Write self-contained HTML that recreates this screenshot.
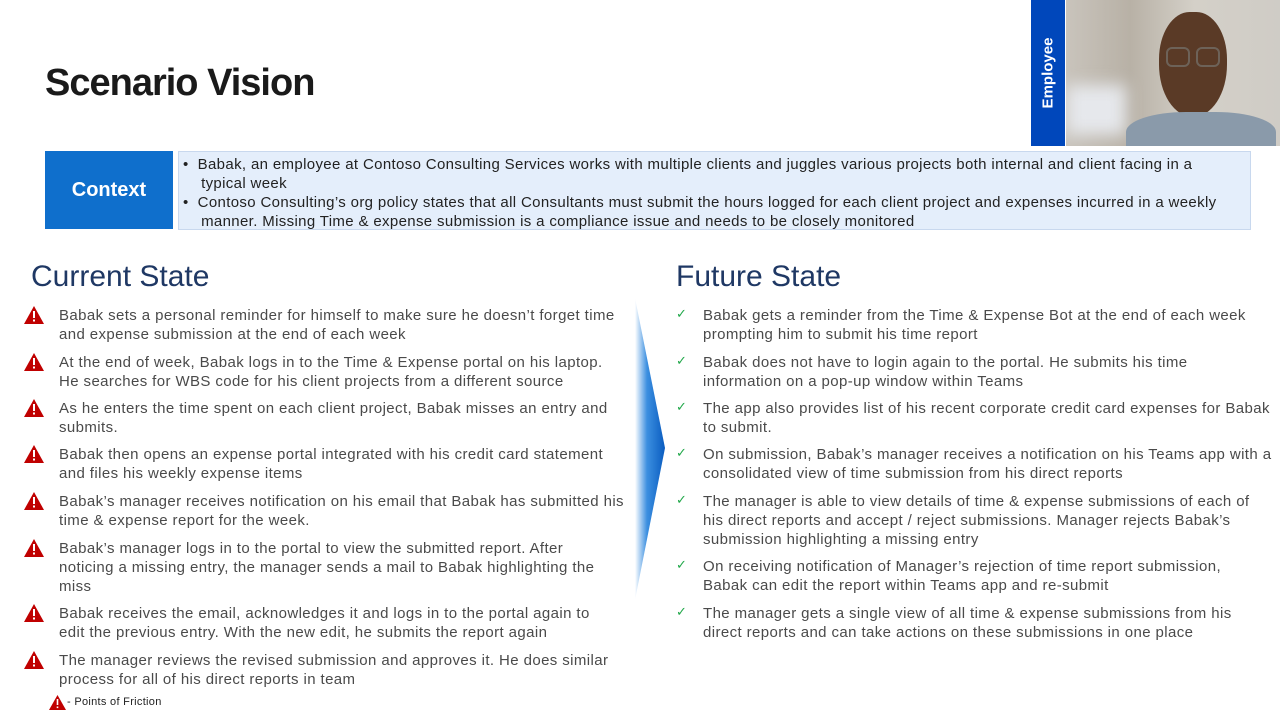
<!DOCTYPE html>
<html><head><meta charset="utf-8">
<style>
*{margin:0;padding:0;box-sizing:border-box}
body{width:1280px;height:720px;background:#fff;position:relative;overflow:hidden;font-family:"Liberation Sans",sans-serif;color:#404040}
.abs{position:absolute}
.item{position:absolute;font-size:15px;line-height:19px;white-space:nowrap;color:#4a4a4a;letter-spacing:0.4px}
.warn{position:absolute;width:20px;height:18px}
.chk{position:absolute;color:#22a84a;font-size:13px}
</style></head><body>
<div class="abs" style="left:45px;top:62px;font-size:38px;font-weight:bold;color:#1a1a1a;letter-spacing:-1px">Scenario Vision</div>

<div class="abs" style="left:1031px;top:0;width:34px;height:146px;background:#0047bb"><div style="position:absolute;left:17px;top:73px;transform:translate(-50%,-50%) rotate(-90deg);color:#fff;font-weight:bold;font-size:15px;white-space:nowrap">Employee</div></div>
<div class="abs" style="left:1066px;top:0;width:214px;height:146px;overflow:hidden;background:linear-gradient(90deg,#c9c4bc 0%,#b8b1a6 30%,#d4d0c8 60%,#cfccc6 100%)">
<div class="abs" style="left:0;top:85px;width:60px;height:50px;background:#e6e8ec;filter:blur(8px)"></div>
<div class="abs" style="left:93px;top:12px;width:68px;height:105px;border-radius:45% 45% 50% 50%;background:#5a3a26"></div>
<div class="abs" style="left:60px;top:112px;width:150px;height:50px;border-radius:40% 40% 0 0;background:#8a9aaa"></div>
<div class="abs" style="left:100px;top:47px;width:24px;height:20px;border:2px solid #6d6258;border-radius:6px"></div>
<div class="abs" style="left:130px;top:47px;width:24px;height:20px;border:2px solid #6d6258;border-radius:6px"></div>
</div>

<div class="abs" style="left:45px;top:151px;width:128px;height:78px;background:#0f6fcc;color:#fff;font-weight:bold;font-size:20px;display:flex;align-items:center;justify-content:center">Context</div>
<div class="abs" style="left:178px;top:151px;width:1073px;height:79px;background:#e4eefb;border:1px solid #c8d8ee"></div>
<div class="item" style="left:183px;top:155px;color:#222;letter-spacing:0.35px">•&nbsp;&nbsp;Babak, an employee at Contoso Consulting Services works with multiple clients and juggles various projects both internal and client facing in a<br>&nbsp;&nbsp;&nbsp;&nbsp;typical week</div>
<div class="item" style="left:183px;top:193px;color:#222;letter-spacing:0.35px">•&nbsp;&nbsp;Contoso Consulting’s org policy states that all Consultants must submit the hours logged for each client project and expenses incurred in a weekly<br>&nbsp;&nbsp;&nbsp;&nbsp;manner. Missing Time &amp; expense submission is a compliance issue and needs to be closely monitored</div>

<div class="abs" style="left:31px;top:260px;font-size:30px;color:#1f3864">Current State</div>
<div class="abs" style="left:676px;top:260px;font-size:30px;color:#1f3864">Future State</div>

<svg class="abs" style="left:630px;top:295px" width="40" height="310"><defs><linearGradient id="g" x1="0" x2="1"><stop offset="0" stop-color="#ffffff"/><stop offset="0.4" stop-color="#3b8fe0"/><stop offset="1" stop-color="#0a5cc0"/></linearGradient></defs><polygon points="5,3 35,153 5,305" fill="url(#g)"/></svg>

<div id="left"></div><div id="right"></div>

<svg class="abs" style="left:49px;top:695px" width="17" height="15"><polygon points="8.5,0 17,15 0,15" fill="#c00000"/><rect x="7.7" y="4" width="1.6" height="6" fill="#fff"/><rect x="7.7" y="11.5" width="1.6" height="1.6" fill="#fff"/></svg>
<div class="abs" style="left:67px;top:696px;font-size:11px;color:#222;letter-spacing:0.3px">- Points of Friction</div>

<script>
const leftItems=[
["Babak sets a personal reminder for himself to make sure he doesn’t forget time","and expense submission at the end of each week"],
["At the end of week, Babak logs in to the Time &amp; Expense portal on his laptop.","He searches for WBS code for his client projects from a different source"],
["As he enters the time spent on each client project, Babak misses an entry and","submits."],
["Babak then opens an expense portal integrated with his credit card statement","and files his weekly expense items"],
["Babak’s manager receives notification on his email that Babak has submitted his","time &amp; expense report for the week."],
["Babak’s manager logs in to the portal to view the submitted report. After","noticing a missing entry, the manager sends a mail to Babak highlighting the","miss"],
["Babak receives the email, acknowledges it and logs in to the portal again to","edit the previous entry. With the new edit, he submits the report again"],
["The manager reviews the revised submission and approves it. He does similar","process for all of his direct reports in team"]];
const leftTops=[306,353,399,445,492,539,604,651];
const rightItems=[
["Babak gets a reminder from the Time &amp; Expense Bot at the end of each week","prompting him to submit his time report"],
["Babak does not have to login again to the portal. He submits his time","information on a pop-up window within Teams"],
["The app also provides list of his recent corporate credit card expenses for Babak","to submit."],
["On submission, Babak’s manager receives a notification on his Teams app with a","consolidated view of time submission from his direct reports"],
["The manager is able to view details of time &amp; expense submissions of each of","his direct reports and accept / reject submissions. Manager rejects Babak’s","submission highlighting a missing entry"],
["On receiving notification of Manager’s rejection of time report submission,","Babak can edit the report within Teams app and re-submit"],
["The manager gets a single view of all time &amp; expense submissions from his","direct reports and can take actions on these submissions in one place"]];
const rightTops=[306,353,399,445,492,557,604];
const L=document.getElementById('left'),R=document.getElementById('right');
leftItems.forEach((t,i)=>{
 const d=document.createElement('div');d.className='item';d.style.left='59px';d.style.top=leftTops[i]+'px';d.innerHTML=t.join('<br>');
 
 
 L.appendChild(d);
 const s=document.createElementNS('http://www.w3.org/2000/svg','svg');s.setAttribute('class','warn');s.setAttribute('width','20');s.setAttribute('height','18');
 s.style.left='24px';s.style.top=(leftTops[i])+'px';
 s.innerHTML='<polygon points="10,0 20,18 0,18" fill="#c00000"/><rect x="9" y="5" width="2" height="7" fill="#fff"/><rect x="9" y="13.5" width="2" height="2" fill="#fff"/>';
 
 
 L.appendChild(s);
});
rightItems.forEach((t,i)=>{
 const d=document.createElement('div');d.className='item';d.style.left='703px';d.style.top=rightTops[i]+'px';d.innerHTML=t.join('<br>');
 
 
 R.appendChild(d);
 const c=document.createElement('div');c.className='chk';c.textContent='✓';c.style.left='676px';c.style.top=(rightTops[i])+'px';
 
 
 R.appendChild(c);
});
</script>
</body></html>
